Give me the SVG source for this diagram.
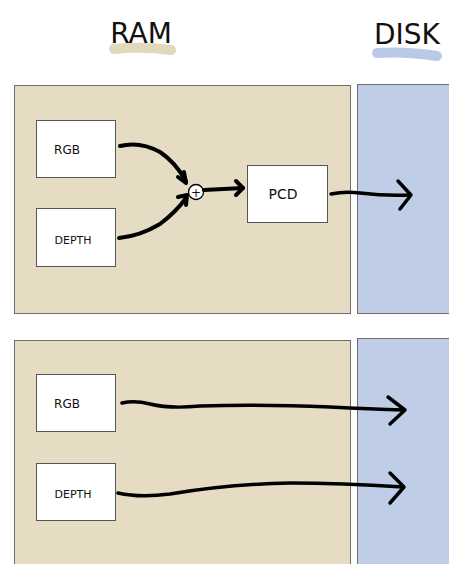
<svg xmlns="http://www.w3.org/2000/svg" width="449" height="564" viewBox="0 0 449 564">
<style>
.ram{fill:#e5dcc3;stroke:#6e6e6e;stroke-width:1}
.disk{fill:#bfcee6;stroke:#6e6e6e;stroke-width:1}
.box{fill:#ffffff;stroke:#555555;stroke-width:1}
.lbl{font-family:"DejaVu Sans",sans-serif;fill:#111;text-anchor:middle}
.title{font-family:"DejaVu Sans",sans-serif;fill:#111;font-size:28px;font-weight:400;text-anchor:middle}
.w{fill:none;stroke:#000;stroke-width:4;stroke-linecap:round;stroke-linejoin:round}
.h{fill:none;stroke:#000;stroke-width:3.5;stroke-linecap:round;stroke-linejoin:round}
</style>
<rect width="449" height="564" fill="#ffffff"/>
<g id="ram-title">
<path d="M114 49 Q142 46 171 50" stroke="#e2d9bd" stroke-width="10" stroke-linecap="round" fill="none"/>
<text class="title" x="141" y="43">RAM</text>
</g>
<g id="disk-title">
<path d="M377 53 Q406 51 437 56" stroke="#b9c9e7" stroke-width="10" stroke-linecap="round" fill="none"/>
<text class="title" x="407" y="44">DISK</text>
</g>
<g id="ram-top"><rect class="ram" x="14.5" y="85.5" width="336" height="228"/></g>
<g id="disk-top"><rect class="disk" x="357.5" y="84.5" width="94" height="229"/></g>
<g id="ram-bottom"><rect class="ram" x="14.5" y="340.5" width="336" height="230"/></g>
<g id="disk-bottom"><rect class="disk" x="357.5" y="338.5" width="94" height="232"/></g>
<g id="rgb1"><rect class="box" x="36.5" y="120.5" width="79" height="57"/><text class="lbl" x="67" y="154" font-size="12">RGB</text></g>
<g id="depth1"><rect class="box" x="36.5" y="208.5" width="79" height="58"/><text class="lbl" x="73" y="244" font-size="11">DEPTH</text></g>
<g id="plus"><circle cx="196" cy="192" r="7.5" fill="#fff" stroke="#000" stroke-width="1.3"/><text class="lbl" x="196" y="196.5" font-size="12">+</text></g>
<g id="pcd"><rect class="box" x="247.5" y="165.5" width="80" height="57"/><text class="lbl" x="283" y="199" font-size="14">PCD</text></g>
<g id="rgb2"><rect class="box" x="36.5" y="374.5" width="79" height="57"/><text class="lbl" x="67" y="408" font-size="12">RGB</text></g>
<g id="depth2"><rect class="box" x="36.5" y="463.5" width="79" height="57"/><text class="lbl" x="73" y="498" font-size="11">DEPTH</text></g>
<g id="connectors">
<path class="w" d="M120 146 Q140 141 160 152 Q175 162 186 181"/>
<path class="w" d="M178 177 L186 183 L184 172"/>
<path class="w" d="M119 238 Q140 236 160 224 Q176 212 186 198"/>
<path class="w" d="M178 197 L187 195 L186 205"/>
<path class="w" d="M204 190 L243 188"/>
<path class="w" d="M236 181 L243 188 L236 195"/>
<path class="h" d="M331 194 Q345 191 360 193 Q385 196 410 195"/>
<path class="h" d="M398 181 L411 195 L400 209"/>
<path class="h" d="M122 403 Q135 400 150 404 Q170 409 200 406 Q260 404 330 407 Q370 409 404 410"/>
<path class="h" d="M388 397 L405 410 L390 424"/>
<path class="h" d="M118 493 Q140 498 170 494 Q230 484 290 483 Q340 483 403 487"/>
<path class="h" d="M390 473 L404 487 L390 503"/>
</g>
</svg>
